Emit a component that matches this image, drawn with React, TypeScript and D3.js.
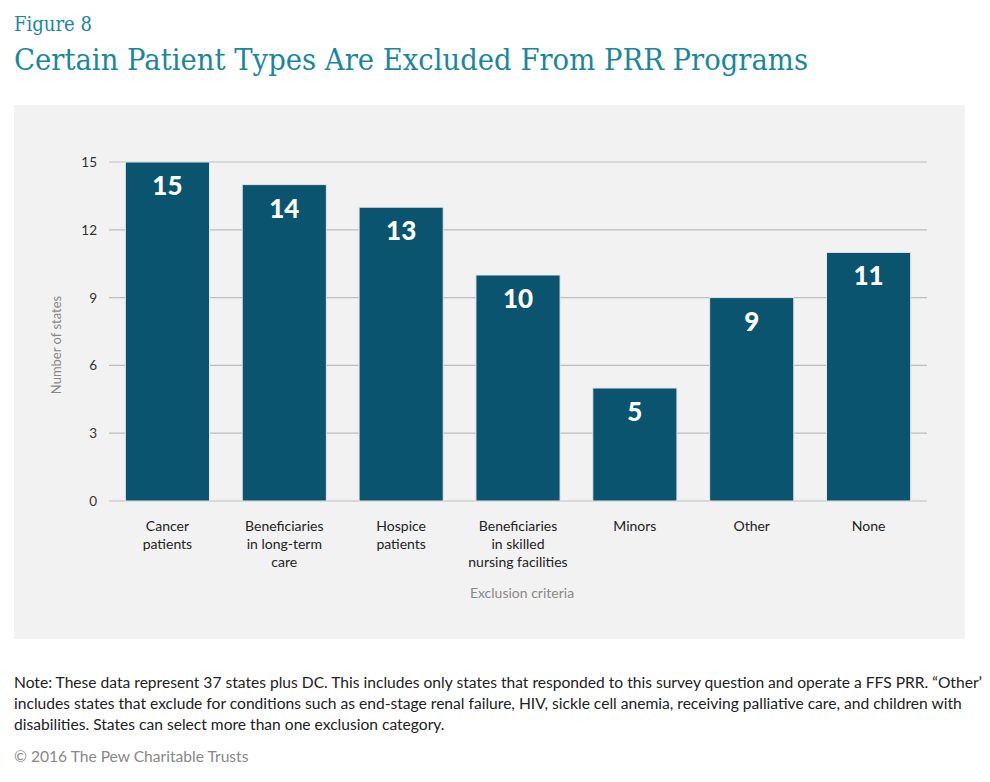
import React, { useEffect, useRef } from "react";
import * as d3 from "d3";

const categories = [
  ["Cancer", "patients"],
  ["Beneficiaries", "in long-term", "care"],
  ["Hospice", "patients"],
  ["Beneficiaries", "in skilled", "nursing facilities"],
  ["Minors"],
  ["Other"],
  ["None"],
];
const values = [15, 14, 13, 10, 5, 9, 11];
const yTicks = [0, 3, 6, 9, 12, 15];

const noteLines = [
  "Note: These data represent 37 states plus DC. This includes only states that responded to this survey question and operate a FFS PRR. \u201COther\u201D",
  "includes states that exclude for conditions such as end-stage renal failure, HIV, sickle cell anemia, receiving palliative care, and children with",
  "disabilities. States can select more than one exclusion category.",
];

const SANS = "Lato, 'Open Sans', sans-serif";

const App = () => {
  const svgRef = useRef(null);

  useEffect(() => {
    const svg = d3.select(svgRef.current);
    svg.selectAll("*").remove();

    // Header
    svg
      .append("text")
      .attr("x", 14)
      .attr("y", 31)
      .attr("fill", "#1a87a0")
      .style("font-family", "'DejaVu Serif', serif")
      .style("font-size", "20px")
      .attr("textLength", 78)
      .attr("lengthAdjust", "spacingAndGlyphs")
      .text("Figure 8");

    svg
      .append("text")
      .attr("x", 14)
      .attr("y", 70)
      .attr("fill", "#1a87a0")
      .style("font-family", "'DejaVu Serif', serif")
      .style("font-size", "30px")
      .attr("textLength", 794)
      .attr("lengthAdjust", "spacingAndGlyphs")
      .text("Certain Patient Types Are Excluded From PRR Programs");

    // Panel
    svg
      .append("rect")
      .attr("x", 14)
      .attr("y", 105)
      .attr("width", 951)
      .attr("height", 534)
      .attr("fill", "#f2f2f2");

    const x = d3
      .scaleBand()
      .domain(categories.map((_, i) => String(i)))
      .range([109, 927])
      .paddingInner(0.28)
      .paddingOuter(0.14);

    const y = d3.scaleLinear().domain([0, 15]).range([501, 162]);

    // Grid lines
    svg
      .append("g")
      .selectAll("line")
      .data(yTicks)
      .join("line")
      .attr("x1", 109)
      .attr("x2", 927)
      .attr("y1", (d) => y(d))
      .attr("y2", (d) => y(d))
      .attr("stroke", "#bdbdbd")
      .attr("stroke-width", 1.2);

    svg
      .append("g")
      .selectAll("text")
      .data(yTicks)
      .join("text")
      .attr("x", 97)
      .attr("y", (d) => y(d) + 5)
      .attr("text-anchor", "end")
      .attr("fill", "#333")
      .style("font-family", SANS)
      .style("font-size", "13.5px")
      .text((d) => d);

    // Bars
    svg
      .append("g")
      .selectAll("rect")
      .data(values)
      .join("rect")
      .attr("x", (_, i) => x(String(i)))
      .attr("y", (d) => y(d))
      .attr("width", x.bandwidth())
      .attr("height", (d) => y(0) - y(d))
      .attr("fill", "#0a5470")
      .attr("stroke", "#e6e6e6")
      .attr("stroke-width", 1);

    // Value labels
    svg
      .append("g")
      .selectAll("text")
      .data(values)
      .join("text")
      .attr("x", (_, i) => x(String(i)) + x.bandwidth() / 2)
      .attr("y", (d) => y(d) + 33)
      .attr("text-anchor", "middle")
      .attr("fill", "#fff")
      .style("font-family", SANS)
      .style("font-weight", 900)
      .style("font-size", "26px")
      .text((d) => d);

    // Category labels
    const cat = svg
      .append("g")
      .selectAll("text")
      .data(categories)
      .join("text")
      .attr("text-anchor", "middle")
      .attr("fill", "#222")
      .style("font-family", SANS)
      .style("font-size", "14px");
    cat
      .selectAll("tspan")
      .data((d, i) => d.map((t) => ({ t, i })))
      .join("tspan")
      .attr("x", (d) => x(String(d.i)) + x.bandwidth() / 2)
      .attr("y", (_, j) => 531 + j * 18)
      .text((d) => d.t);

    // Axis titles
    svg
      .append("text")
      .attr("x", 522)
      .attr("y", 598)
      .attr("text-anchor", "middle")
      .attr("fill", "#888")
      .style("font-family", SANS)
      .style("font-size", "14px")
      .text("Exclusion criteria");

    svg
      .append("text")
      .attr("transform", "translate(61,345) rotate(-90)")
      .attr("text-anchor", "middle")
      .attr("fill", "#888")
      .style("font-family", SANS)
      .style("font-size", "13px")
      .text("Number of states");

    // Note
    svg
      .append("g")
      .selectAll("text")
      .data(noteLines)
      .join("text")
      .attr("x", 14)
      .attr("y", (_, i) => 688 + i * 21)
      .attr("fill", "#222")
      .style("font-family", SANS)
      .style("font-size", "15.6px")
      .text((d) => d);

    svg
      .append("text")
      .attr("x", 14)
      .attr("y", 762)
      .attr("fill", "#888")
      .style("font-family", SANS)
      .style("font-size", "15.6px")
      .text("\u00A9 2016 The Pew Charitable Trusts");
  }, []);

  return <svg ref={svgRef} width={990} height={782} style={{ display: "block", margin: -8 }} />;
};

export default App;
